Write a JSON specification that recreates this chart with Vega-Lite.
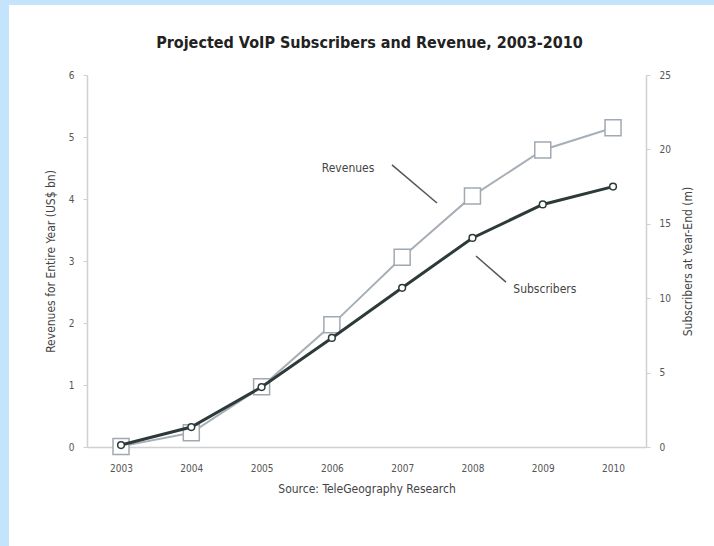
{
  "$schema": "https://vega.github.io/schema/vega-lite/v6.json",
  "autosize": {"type": "none"},
  "padding": {"left": 9, "top": 5, "right": 0, "bottom": 0},
  "width": 705,
  "height": 541,
  "background": "#c4e4fb",
  "config": {
    "view": {"fill": "white", "stroke": null},
    "font": "DejaVu Sans Condensed, Liberation Sans Narrow, Roboto, sans-serif",
    "axis": {"grid": false, "labelFont": "DejaVu Sans Condensed, Liberation Sans Narrow, Roboto, sans-serif", "titleFont": "DejaVu Sans Condensed, Liberation Sans Narrow, Roboto, sans-serif", "labelColor": "#555555", "titleColor": "#444444", "titleFontWeight": "normal", "domainColor": "#d0d0d0", "tickColor": "#d0d0d0", "domainWidth": 1.5}
  },
  "datasets": {
    "series": [
      {"year": 2003, "revenue": 0.01, "subscribers": 0.13},
      {"year": 2004, "revenue": 0.23, "subscribers": 1.34},
      {"year": 2005, "revenue": 0.97, "subscribers": 4.03},
      {"year": 2006, "revenue": 1.97, "subscribers": 7.33},
      {"year": 2007, "revenue": 3.06, "subscribers": 10.7},
      {"year": 2008, "revenue": 4.05, "subscribers": 14.05},
      {"year": 2009, "revenue": 4.79, "subscribers": 16.3},
      {"year": 2010, "revenue": 5.15, "subscribers": 17.5}
    ],
    "labels": [
      {"year": 2006.23, "revenue": 4.5, "label": "Revenues"},
      {"year": 2009.03, "revenue": 2.55, "label": "Subscribers"}
    ],
    "leaders": [
      {"year": 2006.855, "revenue": 4.55, "year2": 2007.495, "revenue2": 3.935},
      {"year": 2008.05, "revenue": 3.08, "year2": 2008.477, "revenue2": 2.66}
    ]
  },
  "data": {"name": "series"},
  "title": {
    "text": "Projected VoIP Subscribers and Revenue, 2003-2010",
    "font": "DejaVu Sans Condensed, Liberation Sans Narrow, Roboto, sans-serif",
    "fontSize": 16,
    "fontWeight": "bold",
    "color": "#222222",
    "anchor": "middle",
    "frame": "group",
    "offset": -46,
    "dx": 8
  },
  "encoding": {
    "x": {
      "field": "year",
      "type": "quantitative",
      "scale": {"domain": [2002.516, 2010.469], "range": [78, 637], "nice": false, "zero": false},
      "axis": {
        "orient": "bottom",
        "offset": -99,
        "values": [2003, 2004, 2005, 2006, 2007, 2008, 2009, 2010],
        "format": "d",
        "ticks": false,
        "labelFontSize": 10,
        "labelPadding": 16,
        "title": "Source: TeleGeography Research",
        "titleFontSize": 12,
        "titlePadding": 10
      }
    }
  },
  "layer": [
    {
      "encoding": {
        "y": {
          "field": "revenue",
          "type": "quantitative",
          "scale": {"domain": [0, 6], "range": [442, 70], "nice": false, "zero": false},
          "axis": {
            "orient": "left",
            "offset": -78,
            "values": [0, 1, 2, 3, 4, 5, 6],
            "tickSize": 4,
            "labelFontSize": 10,
            "labelPadding": 9,
            "title": "Revenues for Entire Year (US$ bn)",
            "titleFontSize": 12,
            "titlePadding": 11
          }
        }
      },
      "layer": [
        {"mark": {"type": "line", "color": "#a7afb7", "strokeWidth": 2}},
        {"mark": {"type": "point", "shape": "square", "size": 256, "filled": false, "fill": "white", "fillOpacity": 1, "stroke": "#a0a9b2", "strokeWidth": 1.5, "opacity": 1}},
        {
          "data": {"name": "leaders"},
          "mark": {"type": "rule", "color": "#555555", "strokeWidth": 1.5},
          "encoding": {"x2": {"field": "year2"}, "y2": {"field": "revenue2"}}
        },
        {
          "data": {"name": "labels"},
          "mark": {"type": "text", "fontSize": 12, "color": "#444444", "align": "center", "baseline": "middle", "font": "DejaVu Sans Condensed, Liberation Sans Narrow, Roboto, sans-serif"},
          "encoding": {"text": {"field": "label"}}
        }
      ]
    },
    {
      "encoding": {
        "y": {
          "field": "subscribers",
          "type": "quantitative",
          "scale": {"domain": [0, 25], "range": [442, 70], "nice": false, "zero": false},
          "axis": {
            "orient": "right",
            "offset": -68,
            "values": [0, 5, 10, 15, 20, 25],
            "tickSize": 4,
            "labelFontSize": 10,
            "labelPadding": 9,
            "title": "Subscribers at Year-End (m)",
            "titleAngle": 270,
            "titleFontSize": 12,
            "titlePadding": 24
          }
        }
      },
      "layer": [
        {"mark": {"type": "line", "color": "#2e3a3a", "strokeWidth": 3}},
        {"mark": {"type": "point", "shape": "circle", "size": 45, "filled": false, "fill": "white", "fillOpacity": 1, "stroke": "#2e3a3a", "strokeWidth": 1.5, "opacity": 1}}
      ]
    }
  ],
  "resolve": {"scale": {"y": "independent"}, "axis": {"y": "independent"}}
}
